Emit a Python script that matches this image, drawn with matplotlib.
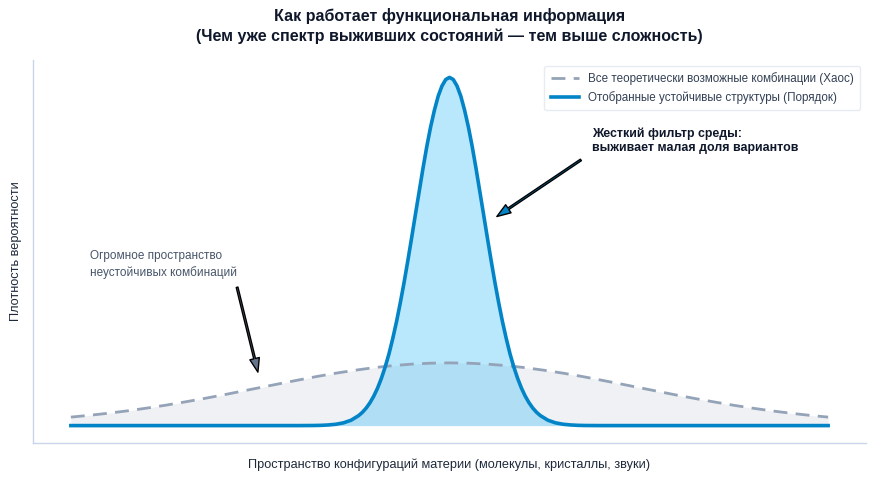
import numpy as np
import matplotlib
matplotlib.use("Agg")
import matplotlib.pyplot as plt

plt.rcParams['font.family'] = ['Liberation Sans', 'DejaVu Sans']

# wide curve: all theoretically possible combinations
chaos_x = [-10, -9.5, -9, -8.5, -8, -7.5, -7, -6.5, -6, -5.5, -5, -4.5, -4, -3.5, -3, -2.5,
           -2, -1.5, -1, -0.5, 0, 0.5, 1, 1.5, 2,
           2.5, 3, 3.5, 4, 4.5, 5, 5.5, 6, 6.5, 7, 7.5, 8, 8.5, 9, 9.5, 10]
chaos_y = [0.0108, 0.0131, 0.0158, 0.0188, 0.0222, 0.0259, 0.0300, 0.0343, 0.0388, 0.0436,
           0.0484, 0.0532, 0.0579, 0.0625, 0.0667, 0.0704,
           0.0737, 0.0763, 0.0782, 0.0794, 0.0798, 0.0794, 0.0782, 0.0763, 0.0737,
           0.0704, 0.0667, 0.0625, 0.0579, 0.0532, 0.0484, 0.0436, 0.0388, 0.0343,
           0.0300, 0.0259, 0.0222, 0.0188, 0.0158, 0.0131, 0.0108]

# narrow curve: selected stable structures
order_x = [-10, -4.0, -3.6, -3.4, -3.2, -3.0, -2.8, -2.6, -2.4, -2.3, -2.2, -2.1, -2.0,
           -1.9, -1.8, -1.7, -1.6, -1.5, -1.4, -1.3, -1.2, -1.1, -1.0,
           -0.9, -0.8, -0.7, -0.6, -0.5, -0.4, -0.3, -0.2, -0.1, 0.0,
           0.1, 0.2, 0.3, 0.4, 0.5, 0.6, 0.7, 0.8, 0.9, 1.0,
           1.1, 1.2, 1.3, 1.4, 1.5, 1.6, 1.7, 1.8, 1.9, 2.0,
           2.1, 2.2, 2.3, 2.4, 2.6, 2.8, 3.0, 3.2, 3.4, 3.6, 4.0, 10]
order_y = [0.0, 0.0, 0.0001, 0.0003, 0.0008, 0.0017, 0.0035, 0.0068, 0.0127, 0.0169, 0.0223, 0.0291, 0.0375,
           0.0477, 0.060, 0.0744, 0.091, 0.1105, 0.132, 0.1561, 0.182, 0.2099, 0.239,
           0.2687, 0.298, 0.3274, 0.355, 0.3797, 0.401, 0.4190, 0.432, 0.4403, 0.443,
           0.4403, 0.432, 0.4190, 0.401, 0.3797, 0.355, 0.3274, 0.298, 0.2687, 0.239,
           0.2099, 0.182, 0.1561, 0.132, 0.1105, 0.091, 0.0744, 0.060, 0.0477, 0.0375,
           0.0291, 0.0223, 0.0169, 0.0127, 0.0068, 0.0035, 0.0017, 0.0008, 0.0003, 0.0001, 0.0, 0.0]

label_chaos = 'Все теоретически возможные комбинации (Хаос)'
label_order = 'Отобранные устойчивые структуры (Порядок)'

fig = plt.figure(figsize=(8.76, 4.78), dpi=100)
ax = fig.add_axes([33/876, 35/478, 833/876, 383/478])

ax.fill_between(chaos_x, chaos_y, color='#94a3b8', alpha=0.15, lw=0)
ax.plot(chaos_x, chaos_y, color='#94a3b8', lw=2, ls=(0, (5, 3)), label=label_chaos)
ax.fill_between(order_x, order_y, color='#38bdf8', alpha=0.35, lw=0)
ax.plot(order_x, order_y, color='#0284c7', lw=2.6, label=label_order)

ax.text(-9.49, 0.223, 'Огромное пространство\nнеустойчивых комбинаций',
        fontsize=8.5, color='#475569', va='top', ha='left', linespacing=1.35)
ax.annotate('', xy=(-5.06, 0.068), xytext=(-5.61, 0.176),
            arrowprops=dict(facecolor='#64748b', edgecolor='black', width=1.3,
                            headwidth=7, headlength=10, shrink=0))

ax.text(3.76, 0.379, 'Жесткий фильтр среды:\nвыживает малая доля вариантов',
        fontsize=8.9, color='#0f172a', fontweight='bold', va='top', ha='left', linespacing=1.2)
ax.annotate('', xy=(1.25, 0.266), xytext=(3.47, 0.338),
            arrowprops=dict(facecolor='#0284c7', edgecolor='black', width=1.3,
                            headwidth=7, headlength=10, shrink=0))

ax.set_title('Как работает функциональная информация\n(Чем уже спектр выживших состояний — тем выше сложность)',
             fontsize=11.5, fontweight='bold', color='#0f172a', pad=14, linespacing=1.3)
ax.set_xlabel('Пространство конфигураций материи (молекулы, кристаллы, звуки)',
              fontsize=9.2, color='#1e293b', labelpad=11)
ax.set_ylabel('Плотность вероятности', fontsize=9.2, color='#1e293b', labelpad=8)

ax.set_xticks([])
ax.set_yticks([])
for side in ['top', 'right']:
    ax.spines[side].set_visible(False)
for side in ['left', 'bottom']:
    ax.spines[side].set_color('#c9d6ea')
    ax.spines[side].set_linewidth(1)

leg = ax.legend(loc='upper right', fontsize=8.4, frameon=True, fancybox=True,
                edgecolor='#e2e8f0', borderpad=0.55, handlelength=2.4)
for t in leg.get_texts():
    t.set_color('#334155')

fig.savefig('out.png', dpi=100)
